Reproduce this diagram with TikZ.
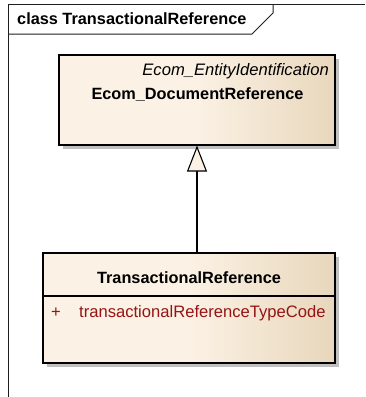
\documentclass[tikz,border=0pt]{standalone}
\usepackage{fontspec}
\setmainfont{Liberation Sans}
\usetikzlibrary{arrows.meta}
\definecolor{umlcream}{RGB}{251,241,228}
\definecolor{umltan}{RGB}{232,215,188}
\definecolor{umlshadow}{RGB}{192,192,192}
\definecolor{umlattr}{RGB}{150,20,20}
\definecolor{umlframe}{RGB}{30,30,30}
\pgfdeclarehorizontalshading{umlfill}{100bp}{color(0bp)=(umlcream); color(25bp)=(umlcream); color(50bp)=(umlcream); color(75bp)=(umltan); color(100bp)=(umltan)}
\tikzset{
  umlbox/.style={draw=black, line width=1.1pt, shading=umlfill, inner sep=0pt},
  umlshadowbox/.style={fill=umlshadow, draw=none},
  framepen/.style={draw=umlframe, line width=1pt},
  txt/.style={font=\fontsize{16.6}{19}\selectfont, inner sep=0pt},
  btxt/.style={font=\fontsize{16.3}{19}\selectfont\bfseries, inner sep=0pt},
  itxt/.style={font=\fontsize{16.6}{19}\selectfont\itshape, inner sep=0pt},
  gen/.style={draw=black, line width=1.1pt, -{Triangle[open, fill=umlcream, width=20pt, length=26pt, line width=1.1pt]}}
}
\begin{document}
\begin{tikzpicture}[x=1pt,y=-1pt]
\useasboundingbox (0,0) rectangle (365,397);
% frame
\draw[framepen] (365,4) -- (8,4) -- (8,397);
\draw[framepen] (8,34) -- (252,34) -- (273,13) -- (273,4);
\node[btxt, anchor=west] (title) at (17,19) {class TransactionalReference};
% shadows
\fill[umlshadowbox] (63,59) rectangle (339,149);
\fill[umlshadowbox] (47,257) rectangle (339,367);
% top class
\node[umlbox, minimum width=276pt, minimum height=90pt] (top) at (197,100) {};
\node[itxt, anchor=east] (stereo) at (329,71) {Ecom\_EntityIdentification};
\node[btxt] (topname) at (197.5,95) {Ecom\_DocumentReference};
% bottom class
\node[umlbox, minimum width=292pt, minimum height=110pt] (bot) at (189,308) {};
\draw[black, line width=1.1pt] (bot.west |- 0,296) -- (bot.east |- 0,296);
\node[btxt] (botname) at (189,278) {TransactionalReference};
\node[txt, text=umlattr, anchor=west] (plus) at (51,313) {+};
\node[txt, text=umlattr, anchor=west] (attr) at (79,313) {transactionalReferenceTypeCode};
% generalization
\draw[gen] (top.south |- bot.north) -- (top.south);
\end{tikzpicture}
\end{document}
